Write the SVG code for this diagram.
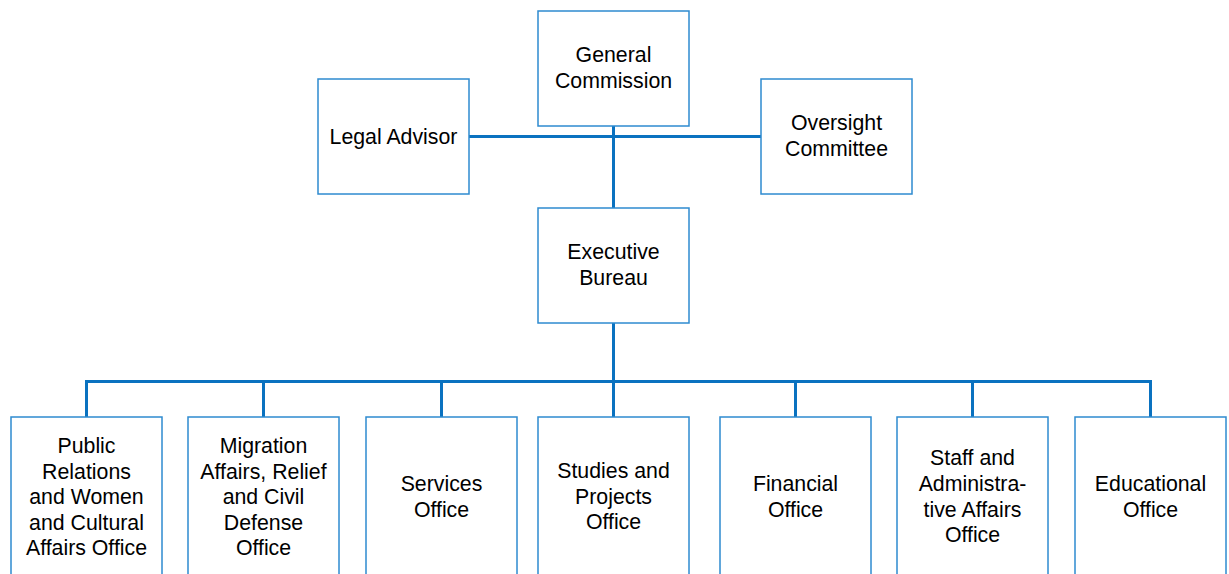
<svg xmlns="http://www.w3.org/2000/svg" width="1229" height="574" viewBox="0 0 1229 574">
<style>
.box{fill:#fff;stroke:#2E8BD0;stroke-width:1.5}
.t{font-family:"Liberation Sans",Arial,sans-serif;font-size:21.3px;fill:#000;text-anchor:middle}
.c{stroke:#0A72C0;stroke-width:3;fill:none}
</style>
<rect width="1229" height="574" fill="#fff"/>
<g id="connectors">
<path class="c" d="M469 136.5H761M613.5 126V208M613.5 323V381.5M86.5 381.5H1150.5M86.5 380V417M263.5 380V417M441.5 380V417M613.5 380V417M795.5 380V417M972.5 380V417M1150.5 380V417"/>
</g>
<g id="general"><rect class="box" x="538" y="11" width="151" height="115"/><text class="t" x="613.5" y="62">General</text><text class="t" x="613.5" y="88">Commission</text></g>
<g id="legal"><rect class="box" x="318" y="79" width="151" height="115"/><text class="t" x="393.5" y="144">Legal Advisor</text></g>
<g id="oversight"><rect class="box" x="761" y="79" width="151" height="115"/><text class="t" x="836.5" y="130">Oversight</text><text class="t" x="836.5" y="156">Committee</text></g>
<g id="executive"><rect class="box" x="538" y="208" width="151" height="115"/><text class="t" x="613.5" y="259">Executive</text><text class="t" x="613.5" y="285">Bureau</text></g>
<g id="public"><rect class="box" x="11" y="417" width="151" height="170"/><text class="t" x="86.5" y="453">Public</text><text class="t" x="86.5" y="478.5">Relations</text><text class="t" x="86.5" y="504">and Women</text><text class="t" x="86.5" y="529.5">and Cultural</text><text class="t" x="86.5" y="555">Affairs Office</text></g>
<g id="migration"><rect class="box" x="188" y="417" width="151" height="170"/><text class="t" x="263.5" y="453">Migration</text><text class="t" x="263.5" y="478.5">Affairs, Relief</text><text class="t" x="263.5" y="504">and Civil</text><text class="t" x="263.5" y="529.5">Defense</text><text class="t" x="263.5" y="555">Office</text></g>
<g id="services"><rect class="box" x="366" y="417" width="151" height="170"/><text class="t" x="441.5" y="491">Services</text><text class="t" x="441.5" y="517">Office</text></g>
<g id="studies"><rect class="box" x="538" y="417" width="151" height="170"/><text class="t" x="613.5" y="478">Studies and</text><text class="t" x="613.5" y="504">Projects</text><text class="t" x="613.5" y="529">Office</text></g>
<g id="financial"><rect class="box" x="720" y="417" width="151" height="170"/><text class="t" x="795.5" y="491">Financial</text><text class="t" x="795.5" y="517">Office</text></g>
<g id="staff"><rect class="box" x="897" y="417" width="151" height="170"/><text class="t" x="972.5" y="465">Staff and</text><text class="t" x="972.5" y="491">Administra-</text><text class="t" x="972.5" y="517">tive Affairs</text><text class="t" x="972.5" y="542">Office</text></g>
<g id="educational"><rect class="box" x="1075" y="417" width="151" height="170"/><text class="t" x="1150.5" y="491">Educational</text><text class="t" x="1150.5" y="517">Office</text></g>
</svg>
